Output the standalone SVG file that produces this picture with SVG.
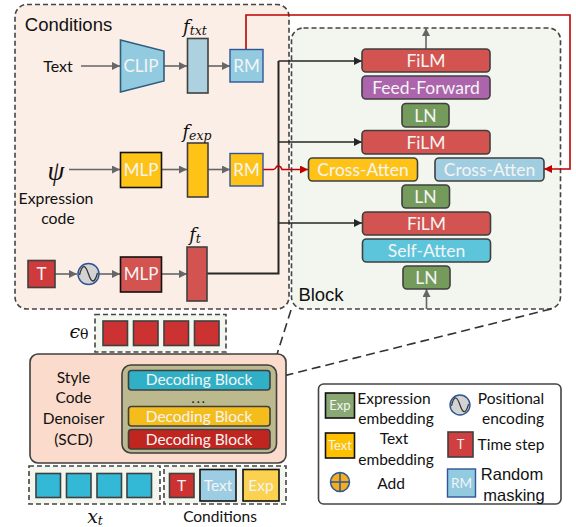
<svg xmlns="http://www.w3.org/2000/svg" width="576" height="527" viewBox="0 0 576 527">
<style>
text{font-family:"Lato","Noto Sans",sans-serif;text-anchor:middle;fill:#111}
.w{fill:#f4f4f4}
.a{font-family:"Liberation Sans",sans-serif}
.m{font-family:"DejaVu Serif",serif;font-style:italic}
.s{font-family:"DejaVu Serif",serif;font-style:italic;font-size:12.500px}
.dash{fill:none;stroke:#444;stroke-width:1.6;stroke-dasharray:5 3}
.zoom{fill:none;stroke:#333;stroke-width:1.6;stroke-dasharray:9 5}
.b{stroke:#3f3f3f;stroke-width:1.6}
.g{stroke:#404040;stroke-width:1.6}
.k{stroke:#111;stroke-width:1.6}
.rm{stroke:#2f5597;stroke-width:1.4}
.gl{fill:none;stroke:#666;stroke-width:1.6;marker-end:url(#ag)}
.bl{fill:none;stroke:#262626;stroke-width:1.4;marker-end:url(#ak)}
.re{fill:none;stroke:#c00000;stroke-width:1.6}
</style>
<defs>
<marker id="ag" markerUnits="userSpaceOnUse" markerWidth="9" markerHeight="9" refX="8" refY="4" orient="auto"><path d="M0 0L8 4L0 8z" fill="#666"/></marker>
<marker id="ak" markerUnits="userSpaceOnUse" markerWidth="9" markerHeight="9" refX="8" refY="4" orient="auto"><path d="M0 0L8 4L0 8z" fill="#262626"/></marker>
<marker id="ar" markerUnits="userSpaceOnUse" markerWidth="9" markerHeight="9" refX="8" refY="4" orient="auto"><path d="M0 0L8 4L0 8z" fill="#c00000"/></marker>
<g id="wave"><circle r="10.5" fill="#d3d3d3" stroke="#2f5597" stroke-width="1.5"/><path d="M-9 1C-6 -11 -3 -9 0 0S6 10 9 -1" fill="none" stroke="#333" stroke-width="1.3"/></g>
</defs>

<g id="conditions-panel"><rect class="dash" x="15" y="4.500" width="274" height="304.500" rx="12" style="fill:#fbeee6"/><text x="68.500" y="31" font-size="18.500" class="a">Conditions</text></g>
<g id="block-panel"><rect class="dash" x="291.500" y="28" width="269" height="281" rx="12" style="fill:#f2f6ee"/><text x="321" y="301" font-size="18.500" class="a">Block</text></g>

<g id="connectors">
<path class="gl" d="M81 66H120"/>
<path class="gl" d="M164 66H187"/>
<path class="gl" d="M208 66H230"/>
<path class="gl" d="M69 169.500H120"/>
<path class="gl" d="M161 169.500H187"/>
<path class="gl" d="M208 169.500H230"/>
<path class="gl" d="M55 274H77"/>
<path class="gl" d="M99 274H120"/>
<path class="gl" d="M161 274H187"/>
<path class="gl" d="M426 49V28"/>
<path class="gl" d="M426.500 309V289"/>
<path d="M207 273.500H278.500V61" fill="none" stroke="#262626" stroke-width="2"/>
<path class="bl" d="M278.500 61H362"/>
<path class="bl" d="M278.500 142H362"/>
<path class="bl" d="M278.500 223H362"/>
<path class="re" d="M246 49.500V15H570V169H544" marker-end="url(#ar)"/>
<path class="re" d="M263 169.500H273Q275 169.500 276 167.500T279 166T282 169.500H308" marker-end="url(#ar)"/>
<path class="zoom" d="M291 310L273 367"/>
<path class="zoom" d="M271 379L555 308"/>
</g>

<g id="text-input"><text x="58" y="72" font-size="16">Text</text></g>
<g id="clip"><path d="M120.500 40L164 51V81L120.500 92z" fill="#92cbe0" stroke="#2f5d7c" stroke-width="1.600"/><text class="w" x="141" y="72" font-size="17">CLIP</text></g>
<g id="f-txt"><rect class="g" x="187.500" y="38.500" width="20.500" height="54.500" fill="#aed1e0"/><text class="m" x="195" y="33" font-size="18">f<tspan class="s" dy="2">txt</tspan></text></g>
<g id="rm-txt"><rect class="rm" x="230" y="49.500" width="33" height="32.500" fill="#92cbe0"/><text class="w" x="246.500" y="72" font-size="17">RM</text></g>

<g id="psi"><text class="m" x="56" y="180" font-size="27" style="font-family:'Liberation Serif',serif">ψ</text><text x="56" y="204" font-size="15.800">Expression</text><text x="58" y="224" font-size="15.800">code</text></g>
<g id="mlp-exp"><rect class="k" x="120.500" y="152.500" width="41" height="35" fill="#ffc317"/><text class="w" x="141" y="176" font-size="17">MLP</text></g>
<g id="f-exp"><rect class="g" x="187.500" y="143" width="20.500" height="54" fill="#ffc317"/><text class="m" x="197" y="138" font-size="18">f<tspan class="s" dy="2">exp</tspan></text></g>
<g id="rm-exp"><rect class="rm" x="230" y="153.500" width="33" height="32.500" fill="#ffc317"/><text class="w" x="246.500" y="176" font-size="17">RM</text></g>

<g id="t-input"><rect class="g" x="28" y="260.500" width="27" height="27" fill="#cf3a3a"/><text class="w" x="41.500" y="280" font-size="17">T</text></g>
<g id="pos-enc"><use href="#wave" x="88.500" y="274"/></g>
<g id="mlp-t"><rect class="k" x="120.500" y="257" width="41" height="35" fill="#d2534f"/><text class="w" x="141" y="280" font-size="17">MLP</text></g>
<g id="f-t"><rect class="g" x="187" y="247" width="20" height="54" fill="#d2534f"/><text class="m" x="195" y="241" font-size="18">f<tspan class="s" dy="2">t</tspan></text></g>

<g id="film-3"><rect class="b" x="362" y="49" width="128" height="23" rx="4" fill="#d2534f"/><text class="w" x="426" y="67" font-size="17.500">FiLM</text></g>
<g id="feed-forward"><rect class="b" x="362" y="76" width="128" height="23" rx="4" fill="#ac64ac"/><text class="w" x="426" y="94" font-size="17.500">Feed-Forward</text></g>
<g id="ln-3"><rect class="b" x="402" y="103.500" width="47" height="23.500" rx="4" fill="#749b5c"/><text class="w" x="425.500" y="121.500" font-size="17.500">LN</text></g>
<g id="film-2"><rect class="b" x="362" y="130.500" width="128" height="23.500" rx="4" fill="#d2534f"/><text class="w" x="426" y="149" font-size="17.500">FiLM</text></g>
<g id="cross-exp"><rect class="b" x="308.500" y="158" width="109" height="23" rx="4" fill="#ffc317"/><text class="w" x="363" y="176" font-size="17.500">Cross-Atten</text></g>
<g id="cross-txt"><rect class="b" x="435" y="158" width="109" height="23" rx="4" fill="#a0cde0"/><text class="w" x="489.500" y="176" font-size="17.500">Cross-Atten</text></g>
<g id="ln-2"><rect class="b" x="402" y="185" width="47.500" height="23" rx="4" fill="#749b5c"/><text class="w" x="425.500" y="203" font-size="17.500">LN</text></g>
<g id="film-1"><rect class="b" x="362.500" y="212" width="128" height="23" rx="4" fill="#d2534f"/><text class="w" x="426.500" y="230" font-size="17.500">FiLM</text></g>
<g id="self-atten"><rect class="b" x="362.500" y="239" width="128" height="23" rx="4" fill="#5cc5dc"/><text class="w" x="426.500" y="257" font-size="17.500">Self-Atten</text></g>
<g id="ln-1"><rect class="b" x="403" y="266" width="47" height="23" rx="4" fill="#749b5c"/><text class="w" x="426.500" y="284" font-size="17.500">LN</text></g>

<g id="epsilon"><rect class="dash" x="95" y="314.500" width="131" height="37.500" style="fill:#f2f6ee"/>
<g class="g" fill="#cb3231"><rect x="103" y="321" width="24.500" height="24.500"/><rect x="133.500" y="321" width="24.500" height="24.500"/><rect x="164" y="321" width="24.500" height="24.500"/><rect x="194.500" y="321" width="24.500" height="24.500"/></g>
<text class="m" x="79" y="338" font-size="19">ϵ<tspan font-size="14" font-style="normal" dy="1">θ</tspan></text></g>

<g id="scd"><rect class="b" x="30" y="354" width="256" height="109" rx="8" fill="#fadbcc"/>
<text x="73.500" y="383" font-size="15.500">Style</text><text x="73.500" y="403" font-size="15.500">Code</text><text x="73.500" y="424" font-size="15.500">Denoiser</text><text x="73.500" y="445" font-size="15.500">(SCD)</text>
<rect class="b" x="122" y="365" width="154.500" height="88" rx="9" fill="#bdb98f"/></g>
<g id="decoding-3"><rect class="b" x="128.500" y="370.500" width="141.500" height="19.500" rx="3" fill="#2fb0c6"/><text class="w" x="199" y="385" font-size="15.500">Decoding Block</text></g>
<g id="dots"><text x="199.500" y="403" font-size="11" font-weight="bold" letter-spacing="2.500">...</text></g>
<g id="decoding-2"><rect class="b" x="128.500" y="406.500" width="141.500" height="19.500" rx="3" fill="#f5bd1b"/><text class="w" x="199" y="422" font-size="15.500">Decoding Block</text></g>
<g id="decoding-1"><rect class="b" x="128.500" y="429.500" width="141.500" height="19.500" rx="3" fill="#c1251f"/><text class="w" x="199" y="445" font-size="15.500">Decoding Block</text></g>

<g id="xt"><rect class="dash" x="29" y="466" width="131" height="38" style="fill:#f2f6ee"/>
<g class="g" fill="#33b8d6"><rect x="36" y="473.500" width="24.500" height="24"/><rect x="66.500" y="473.500" width="24.500" height="24"/><rect x="97" y="473.500" width="24.500" height="24"/><rect x="127" y="473.500" width="24.500" height="24"/></g>
<text class="m" x="95" y="523" font-size="19">x<tspan class="s" dy="2">t</tspan></text></g>
<g id="conditions-input"><rect class="dash" x="164" y="466" width="122" height="38" style="fill:#f2f6ee"/>
<rect class="g" x="169.500" y="473.500" width="24.500" height="24" fill="#cb3231"/><text class="w" x="181.500" y="491" font-size="15.500">T</text>
<rect class="k" x="200" y="469.500" width="36" height="31.500" fill="#9ccde2"/><text class="w" x="218" y="491" font-size="15.500">Text</text>
<rect class="k" x="243" y="469.500" width="36" height="31.500" fill="#fbd24f"/><text class="w" x="261" y="491" font-size="15.500">Exp</text>
<text x="220" y="522" font-size="15.500">Conditions</text></g>

<g id="legend"><rect x="318.500" y="384" width="242.500" height="120" rx="5" fill="#fff" stroke="#444" stroke-width="1.600"/>
<rect class="k" x="325.500" y="393" width="29" height="25" fill="#8aa873"/><text class="w" x="340" y="410" font-size="13">Exp</text>
<text x="394" y="404" font-size="15.500">Expression</text><text x="396" y="424" font-size="15.500">embedding</text>
<rect class="k" x="325.500" y="433" width="29" height="25" fill="#ffc000"/><text class="w" x="340" y="450" font-size="13">Text</text>
<text x="394" y="444" font-size="15.500">Text</text><text x="396" y="465" font-size="15.500">embedding</text>
<circle cx="340" cy="482" r="9.500" fill="#f4ad1c" stroke="#2f5597" stroke-width="1.500"/><path d="M330.500 482H349.500M340 472.500V491.500" stroke="#2f5597" stroke-width="1.500"/>
<text x="391" y="489" font-size="15.500">Add</text>
<use href="#wave" transform="translate(460 405) scale(.95)"/>
<text x="511" y="404" font-size="15.500">Positional</text><text x="513" y="424" font-size="15.500">encoding</text>
<rect class="g" x="448" y="432" width="25" height="25" fill="#cf3f3f"/><text class="w" x="460.500" y="449" font-size="13">T</text>
<text x="511" y="450" font-size="15.500">Time step</text>
<rect class="rm" x="447.500" y="469" width="28" height="28" fill="#92cbe0"/><text class="w" x="461.500" y="488" font-size="13.500">RM</text>
<text class="a" x="512" y="480" font-size="16.500">Random</text><text class="a" x="514" y="501" font-size="16.500">masking</text></g>
</svg>
